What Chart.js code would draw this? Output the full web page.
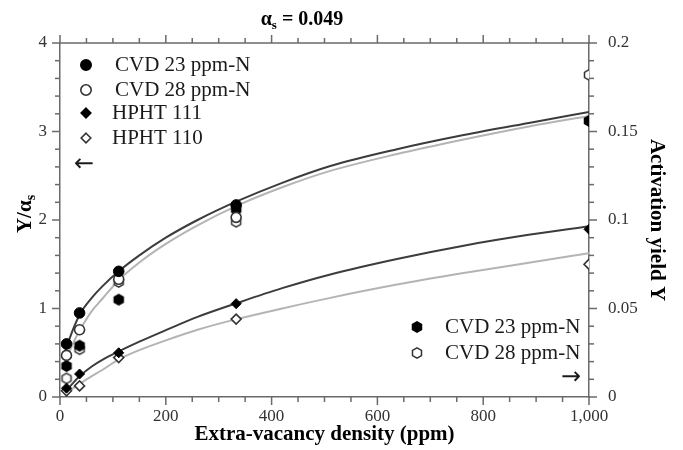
<!DOCTYPE html>
<html>
<head>
<meta charset="utf-8">
<script src="https://cdn.jsdelivr.net/npm/chart.js@4.4.1/dist/chart.umd.min.js"></script>
<style>
  html, body { margin: 0; padding: 0; background: #fff; }
  #wrap { width: 683px; height: 450px; }
</style>
</head>
<body>
<div id="wrap"><canvas id="mainChart" width="683" height="450"></canvas></div>
<script>
    // measured points (x = extra-vacancy density, ppm)
    const densityPpm   = [12.3, 37, 111, 333, 1000];
    const cvd23Ratio   = [0.60, 0.95, 1.42, 2.17, null];   // Y/as, filled circle
    const cvd28Ratio   = [0.47, 0.76, 1.33, 2.03, null];   // Y/as, open circle
    const hpht111Ratio = [0.10, 0.26, 0.50, 1.055, 1.895]; // Y/as, filled diamond
    const hpht110Ratio = [0.07, 0.125, 0.445, 0.88, 1.50]; // Y/as, open diamond
    const cvd23Yield   = [0.0175, 0.029, 0.055, 0.106, 0.156]; // Y, filled hexagon
    const cvd28Yield   = [0.0105, 0.027, 0.065, 0.099, 0.182]; // Y, open hexagon

    // fitted curves
    const fitX          = [10, 25, 39, 60, 80, 111, 150, 200, 260, 334, 420, 511, 637, 763, 889, 1000];
    const fitCvd23      = [0.52, 0.77, 0.95, 1.12, 1.25, 1.42, 1.60, 1.80, 2.00, 2.21, 2.42, 2.61, 2.80, 2.96, 3.10, 3.22];
    const fitCvd28      = [0.40, 0.61, 0.77, 0.97, 1.11, 1.32, 1.52, 1.73, 1.94, 2.16, 2.37, 2.555, 2.745, 2.91, 3.06, 3.175];
    const fitHpht111    = [0.06, 0.16, 0.245, 0.345, 0.42, 0.515, 0.625, 0.755, 0.905, 1.06, 1.23, 1.385, 1.56, 1.71, 1.835, 1.93];
    const fitHpht110    = [0.045, 0.10, 0.155, 0.235, 0.305, 0.425, 0.53, 0.64, 0.76, 0.88, 1.00, 1.12, 1.27, 1.40, 1.52, 1.625];

    const xTicks = { min: 0, max: 1000, major: 200, minor: 50 };
    const yTicks = { min: 0, max: 4, major: 1, minor: 0.2 };
    const y2Ticks = { min: 0, max: 0.2, major: 0.05, minor: 0.01 };

    const serif = '"Liberation Serif", "Times New Roman", serif';
    const axisColor = '#6a6a6a';
    const darkLine = '#3c3c3c';
    const lightLine = '#b4b4b4';

    function pts(xs, ys) {
      const out = [];
      xs.forEach((x, i) => { if (ys[i] != null) out.push({ x, y: ys[i] }); });
      return out;
    }

    // little hexagon images for the yield markers
    function makeHex(filled) {
      const c = document.createElement('canvas');
      c.width = 14; c.height = 14;
      const g = c.getContext('2d');
      g.beginPath();
      for (let k = 0; k < 6; k++) {
        const a = Math.PI / 6 + k * Math.PI / 3;
        const px = 7 + 5.2 * Math.cos(a), py = 7 + 5.2 * Math.sin(a);
        k ? g.lineTo(px, py) : g.moveTo(px, py);
      }
      g.closePath();
      g.fillStyle = filled ? '#000' : '#fff';
      g.fill();
      g.lineWidth = 1.5;
      g.strokeStyle = filled ? '#000' : '#333';
      g.stroke();
      return c;
    }
    const hexFilled = makeHex(true);
    const hexOpen = makeHex(false);

    function markerSet(label, ys, style, filled, radius, axis) {
      return {
        label,
        data: pts(densityPpm, ys),
        yAxisID: axis,
        pointStyle: style,
        pointRadius: radius,
        pointBorderWidth: filled ? 1 : 1.6,
        pointBackgroundColor: filled ? '#000' : '#fff',
        pointBorderColor: filled ? '#000' : '#333',
        showLine: false,
        order: 0
      };
    }

    function curveSet(label, ys, color) {
      return {
        label,
        data: pts(fitX, ys),
        yAxisID: 'y',
        showLine: true,
        borderColor: color,
        borderWidth: 2,
        pointRadius: 0,
        cubicInterpolationMode: 'monotone',
        fill: false,
        order: 1
      };
    }

    function line(ctx, x1, y1, x2, y2) {
      ctx.beginPath();
      ctx.moveTo(x1, y1);
      ctx.lineTo(x2, y2);
      ctx.stroke();
    }

    // major + minor tick marks on all four sides, and the top frame line
    const tickPlugin = {
      id: 'tickMarks',
      afterDraw(chart) {
        const { ctx, chartArea: a, scales } = chart;
        ctx.save();
        ctx.strokeStyle = axisColor;
        ctx.lineWidth = 1.5;
        line(ctx, a.left, a.top, a.right + 0.75, a.top);
        const nx = Math.round((xTicks.max - xTicks.min) / xTicks.minor);
        for (let i = 0; i <= nx; i++) {
          const v = xTicks.min + i * xTicks.minor;
          const px = scales.x.getPixelForValue(v);
          const len = i % (xTicks.major / xTicks.minor) === 0 ? 8 : 5;
          line(ctx, px, a.bottom, px, a.bottom + len);
          line(ctx, px, a.top, px, a.top - len);
        }
        const ny = Math.round((yTicks.max - yTicks.min) / yTicks.minor);
        for (let i = 0; i <= ny; i++) {
          const py = scales.y.getPixelForValue(yTicks.min + i * yTicks.minor);
          const len = i % 5 === 0 ? 8 : 5;
          line(ctx, a.left - len, py, a.left, py);
        }
        const ny2 = Math.round((y2Ticks.max - y2Ticks.min) / y2Ticks.minor);
        for (let i = 0; i <= ny2; i++) {
          const py = scales.y2.getPixelForValue(y2Ticks.min + i * y2Ticks.minor);
          const len = i % 5 === 0 ? 8 : 5;
          line(ctx, a.right, py, a.right + len, py);
        }
        ctx.restore();
      }
    };

    function drawRun(ctx, parts, x, y) {
      // parts: [text, font, baseline shift]; centred on x
      let total = 0;
      parts.forEach(p => { ctx.font = p[1]; total += ctx.measureText(p[0]).width; });
      let cx = x - total / 2;
      parts.forEach(p => {
        ctx.font = p[1];
        ctx.fillText(p[0], cx, y + p[2]);
        cx += ctx.measureText(p[0]).width;
      });
    }

    function drawMarker(ctx, kind, x, y) {
      ctx.save();
      ctx.lineWidth = 1.6;
      if (kind === 'hexFilled' || kind === 'hexOpen') {
        const img = kind === 'hexFilled' ? hexFilled : hexOpen;
        ctx.drawImage(img, x - 7, y - 7);
      } else if (kind.startsWith('circle')) {
        ctx.beginPath();
        ctx.arc(x, y, 5.2, 0, Math.PI * 2);
        ctx.fillStyle = kind === 'circleFilled' ? '#000' : '#fff';
        ctx.strokeStyle = kind === 'circleFilled' ? '#000' : '#333';
        ctx.fill(); ctx.stroke();
      } else {
        ctx.beginPath();
        ctx.moveTo(x, y - 4.8); ctx.lineTo(x + 4.8, y); ctx.lineTo(x, y + 4.8); ctx.lineTo(x - 4.8, y);
        ctx.closePath();
        ctx.fillStyle = kind === 'diamondFilled' ? '#000' : '#fff';
        ctx.strokeStyle = kind === 'diamondFilled' ? '#000' : '#333';
        ctx.fill(); ctx.stroke();
      }
      ctx.restore();
    }

    const leftLegend = [
      ['circleFilled', 'CVD 23 ppm-N', 115, 65],
      ['circleOpen', 'CVD 28 ppm-N', 115, 90],
      ['diamondFilled', 'HPHT 111', 112, 113],
      ['diamondOpen', 'HPHT 110', 112, 138]
    ];
    const rightLegend = [
      ['hexFilled', 'CVD 23 ppm-N', 445, 327],
      ['hexOpen', 'CVD 28 ppm-N', 445, 353]
    ];

    const textPlugin = {
      id: 'extraText',
      afterDraw(chart) {
        const ctx = chart.ctx;
        ctx.save();
        ctx.fillStyle = '#000';
        ctx.textBaseline = 'alphabetic';
        drawRun(ctx, [['α', 'bold 20px ' + serif, 0], ['s', 'bold 13px ' + serif, 4], [' = 0.049', 'bold 20px ' + serif, 0]], 302, 25);

        ctx.save();
        ctx.translate(31, 214);
        ctx.rotate(-Math.PI / 2);
        drawRun(ctx, [['Y/α', 'bold 21px ' + serif, 0], ['s', 'bold 14px ' + serif, 4]], 0, 0);
        ctx.restore();

        ctx.fillStyle = '#1a1a1a';
        ctx.textBaseline = 'middle';
        ctx.font = '21px ' + serif;
        leftLegend.forEach(r => {
          drawMarker(ctx, r[0], 86, r[3]);
          ctx.fillText(r[1], r[2], r[3]);
        });
        rightLegend.forEach(r => {
          drawMarker(ctx, r[0], 417, r[3]);
          ctx.fillText(r[1], r[2], r[3]);
        });
        ctx.font = '24px "DejaVu Sans", sans-serif';
        ctx.fillText('←', 74, 165);
        ctx.fillText('→', 561, 378);
        ctx.restore();
      }
    };

    const tickFont = { family: serif, size: 17 };

    window.addEventListener('DOMContentLoaded', () => {
      const ctx = document.getElementById('mainChart').getContext('2d');
      new Chart(ctx, {
        type: 'scatter',
        data: {
          datasets: [
            markerSet('CVD 23 ppm-N', cvd23Ratio, 'circle', true, 5.3, 'y'),
            markerSet('CVD 28 ppm-N', cvd28Ratio, 'circle', false, 5, 'y'),
            markerSet('HPHT 111', hpht111Ratio, 'rectRot', true, 5, 'y'),
            markerSet('HPHT 110', hpht110Ratio, 'rectRot', false, 5, 'y'),
            markerSet('CVD 23 ppm-N (Y)', cvd23Yield, hexFilled, true, 6, 'y2'),
            markerSet('CVD 28 ppm-N (Y)', cvd28Yield, hexOpen, false, 6, 'y2'),
            curveSet('fit CVD 23', fitCvd23, darkLine),
            curveSet('fit CVD 28', fitCvd28, lightLine),
            curveSet('fit HPHT 111', fitHpht111, darkLine),
            curveSet('fit HPHT 110', fitHpht110, lightLine)
          ]
        },
        options: {
          responsive: false,
          animation: false,
          devicePixelRatio: 1,
          layout: { padding: { top: 43, left: 0, right: 0, bottom: 0 } },
          plugins: {
            legend: { display: false },
            tooltip: { enabled: false }
          },
          scales: {
            x: {
              type: 'linear',
              position: 'bottom',
              min: xTicks.min,
              max: xTicks.max,
              ticks: { stepSize: xTicks.major, padding: 9, color: '#333', font: tickFont, maxRotation: 0, autoSkip: false },
              grid: { display: true, drawOnChartArea: false, drawTicks: false },
              border: { color: axisColor, width: 1.5 },
              title: { display: true, text: 'Extra-vacancy density (ppm)', color: '#000',
                       font: { family: serif, size: 21, weight: 'bold' }, padding: { top: 0, bottom: 3 } },
              afterFit: (s) => { s.height = 53; }
            },
            y: {
              type: 'linear',
              position: 'left',
              min: yTicks.min,
              max: yTicks.max,
              ticks: { stepSize: yTicks.major, padding: 13, color: '#333', font: tickFont },
              grid: { display: true, drawOnChartArea: false, drawTicks: false },
              border: { color: axisColor, width: 1.5 },
              afterFit: (s) => { s.width = 60; }
            },
            y2: {
              type: 'linear',
              position: 'right',
              min: y2Ticks.min,
              max: y2Ticks.max,
              ticks: { stepSize: y2Ticks.major, padding: 19, color: '#333', font: tickFont,
                       format: { minimumFractionDigits: 0, maximumFractionDigits: 2 } },
              grid: { display: true, drawOnChartArea: false, drawTicks: false },
              border: { color: axisColor, width: 1.5 },
              title: { display: true, text: 'Activation yield Y', color: '#000',
                       font: { family: serif, size: 21, weight: 'bold' }, padding: { top: 14, bottom: 0 } },
              afterFit: (s) => { s.width = 94; }
            }
          }
        },
        plugins: [tickPlugin, textPlugin]
      });
    });
</script>
</body>
</html>
